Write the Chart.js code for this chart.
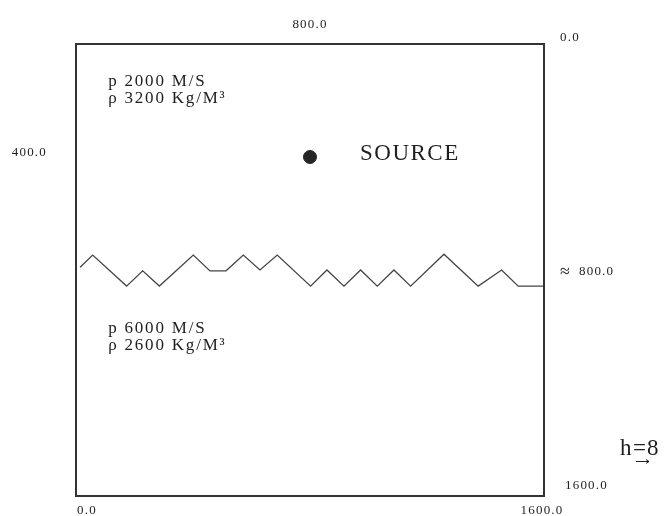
<!DOCTYPE html>
<html><head><meta charset="utf-8">
<script src="https://cdn.jsdelivr.net/npm/chart.js@4"></script>
<style>html,body{margin:0;padding:0;background:#fff}canvas{display:block}</style>
</head><body>
<canvas id="c" width="670" height="516"></canvas>
<script>
// Interface (zig-zag) between the two layers: horizontal distance and depth
const interfaceX     = [14, 57, 173, 228, 285, 401, 458, 513, 572, 629, 688, 802, 858, 916, 973, 1030, 1087, 1144, 1258, 1375, 1455, 1512, 1600];
const interfaceDepth = [790, 747, 857, 803, 857, 747, 803, 803, 747, 800, 747, 857, 800, 857, 800, 857, 800, 857, 744, 857, 800, 857, 857];
// Source position
const sourceX = [800];
const sourceDepth = [400];
const sourceLabel = 'SOURCE';
// Layer properties
const upperLayerText = ['p 2000 M/S', 'ρ 3200 Kg/M³'];
const lowerLayerText = ['p 6000 M/S', 'ρ 2600 Kg/M³'];
const upperTextAnchor = [110, 149];
const lowerTextAnchor = [110, 1023];
const sourceTextAnchor = [971, 411];
// Axis tick values and labels
const topTicks = [800], topLabels = ['800.0'];
const leftTicks = [400], leftLabels = ['400.0'];
const bottomTicks = [0, 1600], bottomLabels = ['0.0', '1600.0'];
const rightTicks = [0, 800, 1600], rightLabels = ['0.0', '≈ 800.0', '1600.0'];
const gridNote = 'h=8';

const SERIF = '"Liberation Serif", "DejaVu Serif", serif';

const decor = {
  id: 'decor',
  afterDatasetsDraw(chart) {
    const {ctx, chartArea: a, scales: {x, y}} = chart;
    ctx.save();
    // frame
    ctx.strokeStyle = '#333';
    ctx.lineWidth = 2;
    ctx.strokeRect(a.left, a.top, a.right - a.left, a.bottom - a.top);

    ctx.fillStyle = '#1e1e1e';
    const tickFont = '13px ' + SERIF;
    ctx.font = tickFont;
    ctx.letterSpacing = '1.2px';
    // top
    ctx.textAlign = 'center'; ctx.textBaseline = 'alphabetic';
    topTicks.forEach((v, i) => ctx.fillText(topLabels[i], x.getPixelForValue(v), a.top - 16));
    // left
    ctx.textAlign = 'right'; ctx.textBaseline = 'middle';
    leftTicks.forEach((v, i) => ctx.fillText(leftLabels[i], a.left - 29, y.getPixelForValue(v) - 4));
    // bottom
    ctx.textBaseline = 'middle';
    bottomTicks.forEach((v, i) => {
      const px = x.getPixelForValue(v);
      if (i === 0) { ctx.textAlign = 'left'; ctx.fillText(bottomLabels[i], px + 1, a.bottom + 15); }
      else { ctx.textAlign = 'center'; ctx.fillText(bottomLabels[i], px - 2, a.bottom + 15); }
    });
    // right
    const rightNudge = [[16, -6], [16, 2], [21, -10]];
    ctx.textAlign = 'left'; ctx.textBaseline = 'middle';
    rightTicks.forEach((v, i) => {
      const lx = a.right + rightNudge[i][0], ly = y.getPixelForValue(v) + rightNudge[i][1];
      const t = rightLabels[i];
      if (t.startsWith('≈')) {
        ctx.font = '18px ' + SERIF; ctx.letterSpacing = '0px';
        ctx.fillText('≈', lx, ly);
        ctx.font = tickFont; ctx.letterSpacing = '1.2px';
        ctx.fillText(t.slice(2), lx + 19, ly);
      } else {
        ctx.fillText(t, lx, ly);
      }
    });

    // layer texts
    ctx.font = '17px ' + SERIF;
    ctx.letterSpacing = '1.8px';
    ctx.textBaseline = 'alphabetic';
    ctx.textAlign = 'left';
    upperLayerText.forEach((t, i) => ctx.fillText(t, x.getPixelForValue(upperTextAnchor[0]), y.getPixelForValue(upperTextAnchor[1]) + i * 17));
    lowerLayerText.forEach((t, i) => ctx.fillText(t, x.getPixelForValue(lowerTextAnchor[0]), y.getPixelForValue(lowerTextAnchor[1]) + i * 17));

    // source label
    ctx.font = '23px ' + SERIF;
    ctx.letterSpacing = '1.5px';
    ctx.fillText(sourceLabel, x.getPixelForValue(sourceTextAnchor[0]), y.getPixelForValue(sourceTextAnchor[1]));

    // h=8 note
    ctx.letterSpacing = '0px';
    ctx.font = '23px ' + SERIF;
    const hx = a.right + 76, hy = a.bottom - 41;
    ctx.fillText(gridNote[0], hx, hy);
    ctx.fillText(gridNote[1], hx + 13, hy);
    ctx.fillText(gridNote[2], hx + 27, hy);
    ctx.strokeStyle = '#222'; ctx.lineWidth = 1;
    ctx.beginPath();
    ctx.moveTo(hx + 16, hy + 6.5); ctx.lineTo(hx + 29, hy + 6.5);
    ctx.moveTo(hx + 26, hy + 4.5); ctx.lineTo(hx + 29, hy + 6.5); ctx.lineTo(hx + 26, hy + 8.5);
    ctx.stroke();
    ctx.restore();
  }
};

new Chart(document.getElementById('c'), {
  type: 'scatter',
  data: {
    datasets: [
      {
        label: 'interface',
        data: interfaceX.map((v, i) => ({x: v, y: interfaceDepth[i]})),
        showLine: true, borderColor: '#444', borderWidth: 1.3, pointRadius: 0, tension: 0, fill: false
      },
      {
        label: 'source',
        data: sourceX.map((v, i) => ({x: v, y: sourceDepth[i]})),
        pointRadius: 6.5, pointBackgroundColor: '#262626', pointBorderColor: '#262626', showLine: false
      }
    ]
  },
  options: {
    responsive: false,
    animation: false,
    layout: {padding: {left: 76, right: 126, top: 44, bottom: 20}},
    plugins: {legend: {display: false}, tooltip: {enabled: false}},
    scales: {
      x: {type: 'linear', min: 0, max: 1600, display: false},
      y: {type: 'linear', min: 0, max: 1600, reverse: true, display: false}
    }
  },
  plugins: [decor]
});
</script>
</body></html>
